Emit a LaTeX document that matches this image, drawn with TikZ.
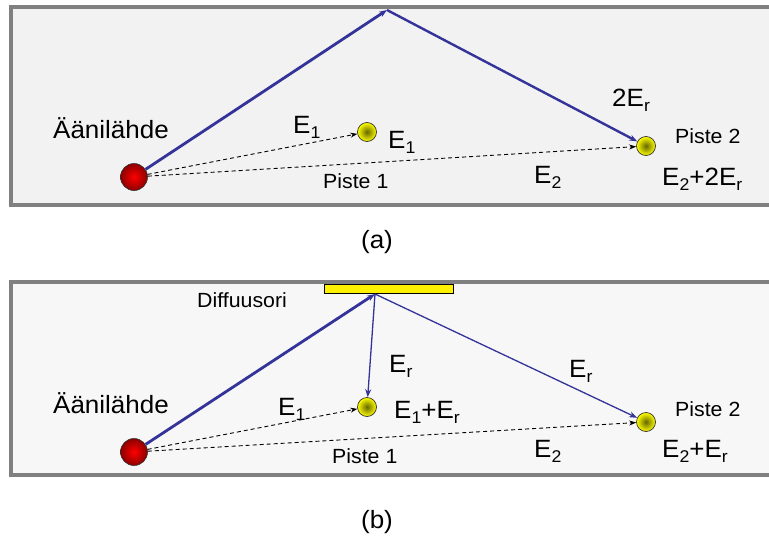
\documentclass[tikz,border=0pt]{standalone}
\usepackage{fontspec}
\setmainfont[FakeStretch=1.04]{Liberation Sans}
\definecolor{rayblue}{RGB}{51,51,153}
\definecolor{roomgray}{RGB}{242,242,242}
\definecolor{roomgrayB}{RGB}{247,247,247}
\definecolor{wallgray}{RGB}{128,128,128}
\usetikzlibrary{arrows.meta}
\tikzset{
  room/.style={draw=wallgray, fill=#1, line width=3.5pt},
  srcdot/.style={circle, draw=black!80, inner color=red, outer color=red!55!black,
                 minimum size=27pt, inner sep=0pt, line width=0.6pt},
  micdot/.style={circle, draw=black!80, inner color=yellow!40!black, outer color=yellow,
                 minimum size=19pt, inner sep=0pt, line width=0.7pt},
  diffbar/.style={draw=black, fill=yellow, minimum width=129pt, minimum height=9pt,
                  inner sep=0pt, line width=0.8pt},
  lbl/.style={inner sep=0pt, anchor=base west, font=\fontsize{25}{28}\selectfont},
  lblS/.style={inner sep=0pt, anchor=base west, font=\fontsize{20.5}{23}\selectfont},
  captxt/.style={inner sep=0pt, font=\fontsize{25}{28}\selectfont},
  ray/.style={draw=rayblue, -{Stealth[length=8pt,width=6pt]}, line width=#1},
  dir/.style={-{Stealth[length=7pt,width=5pt]}, line width=0.9pt, dash pattern=on 4pt off 3pt},
}
\newcommand{\lsub}[1]{\raisebox{-0.2em}{\fontsize{17}{17}\selectfont #1}}

\begin{document}
\begin{tikzpicture}[x=1pt, y=-1pt]
  \useasboundingbox (0,0) rectangle (769,541);
  \clip (0,0) rectangle (769,541);

  % (a) ilman diffuusoria
  \path[room=roomgray] (11,7) rectangle (790,205);
  \node[srcdot] (srcA) at (134,177) {};
  \node[micdot] (p1A)  at (367,132) {};
  \node[micdot] (p2A)  at (646,146) {};
  \coordinate   (topA) at (387,10);

  \draw[ray=2.8pt] (srcA) -- (topA);
  \draw[ray=2.4pt] (topA) -- (p2A);
  \draw[dir] (srcA) -- (p1A);
  \draw[dir] (srcA) -- (p2A);

  \node[lbl]  (srcAtxt) at (53,138)  {Äänilähde};
  \node[lbl]  (e1A)     at (293,133) {E\lsub{1}};
  \node[lbl]  (p1Aval)  at (388,148) {E\lsub{1}};
  \node[lblS] (p1Atxt)  at (323,188) {Piste 1};
  \node[lbl]  (erA)     at (612,106) {2E\lsub{r}};
  \node[lblS] (p2Atxt)  at (675,143) {Piste 2};
  \node[lbl]  (e2A)     at (534,183) {E\lsub{2}};
  \node[lbl]  (p2Aval)  at (662,185) {E\lsub{2}+2E\lsub{r}};
  \node[captxt] (capA)  at (377,242) {(a)};

  % (b) diffuusorin kanssa
  \path[room=roomgrayB] (11,282) rectangle (790,475);
  \node[diffbar] (diff) at (388.5,288.5) {};
  \node[srcdot] (srcB) at (134,452) {};
  \node[micdot] (p1B)  at (367,407) {};
  \node[micdot] (p2B)  at (646,422) {};
  \coordinate   (topB) at (375,294);

  \draw[ray=2.8pt] (srcB) -- (topB);
  \draw[ray=1.3pt] (topB) -- (p1B);
  \draw[ray=1.3pt] (topB) -- (p2B);
  \draw[dir] (srcB) -- (p1B);
  \draw[dir] (srcB) -- (p2B);

  \node[lblS] (difftxt) at (197,307) {Diffuusori};
  \node[lbl]  (srcBtxt) at (53,413)  {Äänilähde};
  \node[lbl]  (e1B)     at (278,415) {E\lsub{1}};
  \node[lbl]  (erB1)    at (389,372) {E\lsub{r}};
  \node[lbl]  (p1Bval)  at (394,418) {E\lsub{1}+E\lsub{r}};
  \node[lbl]  (erB2)    at (569,377) {E\lsub{r}};
  \node[lblS] (p2Btxt)  at (675,416) {Piste 2};
  \node[lbl]  (e2B)     at (534,457) {E\lsub{2}};
  \node[lbl]  (p2Bval)  at (662,457) {E\lsub{2}+E\lsub{r}};
  \node[lblS] (p1Btxt)  at (332,463) {Piste 1};
  \node[captxt] (capB)  at (377,522) {(b)};
\end{tikzpicture}
\end{document}
